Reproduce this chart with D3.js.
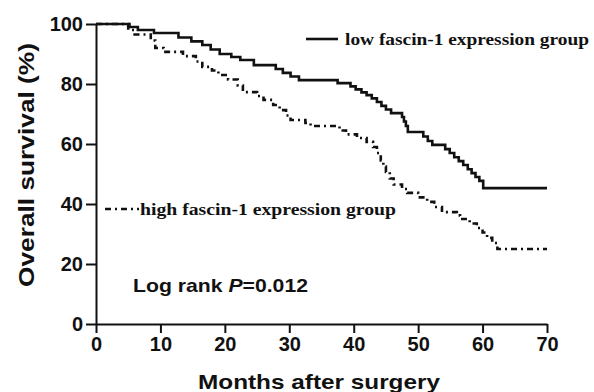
<!DOCTYPE html>
<html>
<head>
<meta charset="utf-8">
<script src="https://cdn.jsdelivr.net/npm/d3@7"></script>
<style>
  body { margin: 0; background: #fff; }
  svg { display: block; }
</style>
</head>
<body>
<div id="chart"></div>
<script>
// Kaplan-Meier steps (months, % surviving)
const lowMonths = [0, 5.2, 6.5, 9.0, 12.8, 14.8, 16.5, 17.8, 19.2, 21.0, 22.4, 24.5, 27.9, 29.0, 30.2, 31.5,
  37.5, 39.5, 40.3, 41.2, 42.0, 42.8, 43.6, 44.3, 45.0, 45.8, 47.5, 47.8, 48.1, 48.4, 50.8, 51.5, 52.2,
  54.2, 54.9, 55.6, 56.3, 57.0, 57.7, 58.3, 58.9, 59.5, 60.1, 70];
const lowSurvival = [100, 99, 98, 97, 95.5, 94.2, 93, 91.5, 90, 89, 88, 86.3, 85, 83.7, 82.5, 81.3,
  80.3, 79.2, 78.2, 77.2, 76.3, 75.2, 74, 72.7, 71.5, 70.3, 69, 67.5, 66, 64, 62.5, 61, 59.7,
  58.3, 57, 55.6, 54.3, 53, 51.6, 50.3, 49, 47.7, 45.3, 45.3];

const highMonths = [0, 5.0, 6.0, 8.5, 9.2, 10.5, 13.5, 15.5, 16.5, 18.0, 19.0, 20.5, 22.0, 22.8, 25.0, 26.0,
  27.5, 28.5, 29.5, 30.2, 32.5, 33.3, 37.8, 38.8, 40.5, 42.0, 43.0, 43.6, 44.2, 44.6, 45.0, 45.6, 46.2,
  47.5, 48.3, 50.0, 51.4, 52.5, 53.7, 56.0, 56.5, 58.0, 59.1, 60.0, 60.7, 61.5, 62.3, 70];
const highSurvival = [100, 98, 96.5, 94.5, 92, 90.7, 89.3, 87.5, 85.7, 84.5, 83, 81.5, 79.5, 77.3, 76, 74.7,
  73, 71.3, 69.5, 68, 67, 66, 64.5, 63.2, 62, 60.7, 59, 57, 54.5, 52.5, 50.7, 48.5, 46.5,
  45, 43.7, 42.2, 40.7, 39, 37.3, 36.2, 35, 33.5, 32, 30.5, 28.7, 27, 25, 25];

const xTicks = [0, 10, 20, 30, 40, 50, 60, 70];
const yTicks = [0, 20, 40, 60, 80, 100];

const lowLabel = "low fascin-1 expression group";
const highLabel = "high fascin-1 expression group";

const width = 594, height = 392;
const sans = "'Liberation Sans', Arial, sans-serif";
const serif = "'Liberation Serif', 'Times New Roman', serif";

const svg = d3.select("#chart").append("svg")
  .attr("width", width)
  .attr("height", height);

const x = d3.scaleLinear().domain([0, 70]).range([96, 547]);
const y = d3.scaleLinear().domain([0, 100]).range([324, 24]);

const line = d3.line()
  .x(d => x(d[0]))
  .y(d => y(d[1]))
  .curve(d3.curveStepAfter);

const lowData = lowMonths.map((m, i) => [m, lowSurvival[i]]);
const highData = highMonths.map((m, i) => [m, highSurvival[i]]);

// curves
svg.append("path")
  .datum(highData)
  .attr("d", line)
  .attr("fill", "none")
  .attr("stroke", "#111")
  .attr("stroke-width", 2.6)
  .attr("stroke-dasharray", "6,4,2,4");

svg.append("path")
  .datum(lowData)
  .attr("d", line)
  .attr("fill", "none")
  .attr("stroke", "#111")
  .attr("stroke-width", 2.6);

// axes
const xAxis = svg.append("g")
  .attr("transform", `translate(0,${y(0)})`)
  .call(d3.axisBottom(x).tickValues(xTicks).tickSize(9).tickSizeOuter(0).tickPadding(4));

const yAxis = svg.append("g")
  .attr("transform", `translate(${x(0)},0)`)
  .call(d3.axisLeft(y).tickValues(yTicks).tickSize(10).tickSizeOuter(0).tickPadding(3));

[xAxis, yAxis].forEach(ax => {
  ax.select(".domain").attr("stroke", "#111").attr("stroke-width", 2);
  ax.selectAll(".tick line").attr("stroke", "#111").attr("stroke-width", 2);
  ax.selectAll(".tick text")
    .attr("fill", "#111")
    .style("font-family", sans)
    .style("font-weight", "bold")
    .style("font-size", "20px");
});

// axis titles
svg.append("text")
  .attr("transform", "translate(34,165) rotate(-90)")
  .attr("text-anchor", "middle")
  .attr("textLength", 244)
  .attr("lengthAdjust", "spacingAndGlyphs")
  .style("font-family", sans)
  .style("font-weight", "bold")
  .style("font-size", "22px")
  .attr("fill", "#111")
  .text("Overall survival (%)");

svg.append("text")
  .attr("x", 319)
  .attr("y", 389)
  .attr("text-anchor", "middle")
  .attr("textLength", 242)
  .attr("lengthAdjust", "spacingAndGlyphs")
  .style("font-family", sans)
  .style("font-weight", "bold")
  .style("font-size", "21px")
  .attr("fill", "#111")
  .text("Months after surgery");

// legend
svg.append("line")
  .attr("x1", 306).attr("x2", 338)
  .attr("y1", 39).attr("y2", 39)
  .attr("stroke", "#111")
  .attr("stroke-width", 2.6);

svg.append("text")
  .attr("x", 345)
  .attr("y", 45)
  .attr("textLength", 244)
  .attr("lengthAdjust", "spacingAndGlyphs")
  .style("font-family", serif)
  .style("font-weight", "bold")
  .style("font-size", "17px")
  .attr("fill", "#111")
  .text(lowLabel);

svg.append("line")
  .attr("x1", 105).attr("x2", 139)
  .attr("y1", 209).attr("y2", 209)
  .attr("stroke", "#111")
  .attr("stroke-width", 2.6)
  .attr("stroke-dasharray", "6,4,2,4");

svg.append("text")
  .attr("x", 140)
  .attr("y", 215)
  .attr("textLength", 256)
  .attr("lengthAdjust", "spacingAndGlyphs")
  .style("font-family", serif)
  .style("font-weight", "bold")
  .style("font-size", "17px")
  .attr("fill", "#111")
  .text(highLabel);

// log rank annotation
const logRank = svg.append("text")
  .attr("x", 133)
  .attr("y", 292)
  .attr("textLength", 175)
  .attr("lengthAdjust", "spacingAndGlyphs")
  .style("font-family", sans)
  .style("font-weight", "bold")
  .style("font-size", "19px")
  .attr("fill", "#111");
logRank.append("tspan").text("Log rank ");
logRank.append("tspan").style("font-style", "italic").text("P");
logRank.append("tspan").text("=0.012");
</script>
</body>
</html>
